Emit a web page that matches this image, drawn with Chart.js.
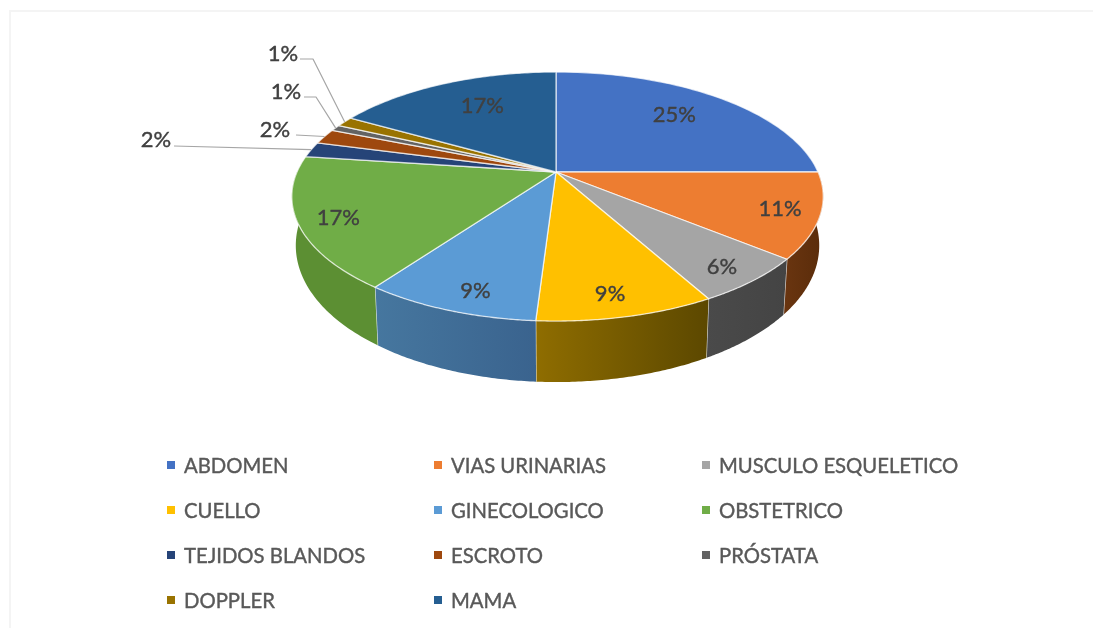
<!DOCTYPE html>
<html lang="es">
<head>
<meta charset="utf-8">
<title>Estudios por tipo</title>
<script src="https://cdn.jsdelivr.net/npm/chart.js@4/dist/chart.umd.min.js"></script>
<style>
  html, body { margin:0; padding:0; background:#fff; overflow:hidden; }
  #wrap { position:relative; width:1093px; height:628px; font-family:Lato, sans-serif; }
  #frame { position:absolute; left:9px; top:10px; width:1084px; height:640px; border:2px solid #f4f4f4; border-right:0; box-sizing:border-box; }
  canvas { position:absolute; left:0; top:0; }
  .item { position:absolute; font-size:20.3px; line-height:24px; color:#595959; white-space:nowrap; -webkit-text-stroke:.4px #595959; }
  .item i { position:absolute; left:-17px; top:8px; width:8px; height:8px; }
</style>
</head>
<body>
<div id="wrap">
  <div id="frame"></div>
  <canvas id="pie" width="1093" height="628"></canvas>
</div>
<script>
const categories = ['ABDOMEN','VIAS URINARIAS','MUSCULO ESQUELETICO','CUELLO','GINECOLOGICO','OBSTETRICO','TEJIDOS BLANDOS','ESCROTO','PRÓSTATA','DOPPLER','MAMA'];
const values = [25, 11, 6, 9, 9, 17.1, 2, 2, 0.8, 1.3, 16.8];
const colors = ['#4472C4','#ED7D31','#A5A5A5','#FFC000','#5B9BD5','#70AD47','#264478','#9E480E','#636363','#997300','#255E91'];
// pared lateral: color izquierda / derecha de cada rebanada
const wallLeft = ['#2f4f88','#6a3510','#4a4a4a','#8f6d00','#46779f','#5c8f33','#1b305a','#6f320a','#464646','#6b5100','#1a426a'];
const wallRight = ['#2f4f88','#5a2c0a','#444444','#5c4800','#3a638e','#5c8f33','#1b305a','#6f320a','#464646','#6b5100','#1a426a'];

/* ------- Perspectiva del disco ------- */
const CX = 556, CY = 172, RX_R = 262, RX_L = 259, RY = 119.7, TILT = 0.197;

function topPoint(a, r = 1) {
  const x = r * Math.cos(a), y = r * Math.sin(a), w = 1 - TILT * y;
  return [CX + (x > 0 ? RX_R : RX_L) * x / w, CY + RY * y / w];
}
function bottomPoint(a) {
  const y = Math.sin(a), p = topPoint(a);
  return [CX + (p[0] - CX) * 0.985, p[1] + 46 + 15 * y];
}

/* ------- Etiquetas ------- */
// fuera del disco: índice de la rebanada, posición del texto y codo de la guía
const outerLabels = [
  {i:6, x:156, y:140, ex:174, ey:146, sx:174, sy:146},
  {i:7, x:275, y:130, ex:296, ey:135, sx:296, sy:135},
  {i:8, x:286, y:92, ex:316, ey:97, sx:304, sy:97},
  {i:9, x:283, y:54, ex:313, ey:59, sx:300, sy:59}
];
// ajuste fino de los porcentajes interiores (px)
const labelNudge = [[-3,-2],[2,0],[3,5],[-4,3],[8,5],[-1,3],[0,0],[0,0],[0,0],[0,0],[10,0]];

const pie3d = {
  id: 'pie3d',
  beforeDatasetsDraw(chart) {
    const ctx = chart.ctx;
    const arcs = chart.getDatasetMeta(0).data;

    // paredes: solo la parte frontal (seno positivo)
    ctx.save();
    ctx.lineJoin = 'round';
    arcs.forEach((arc, i) => {
      const from = Math.max(arc.startAngle, 0), to = Math.min(arc.endAngle, Math.PI);
      if (to <= from) return;
      const top = [], bot = [];
      for (let k = 0; k <= 60; k++) {
        const a = from + (to - from) * k / 60;
        top.push(topPoint(a));
        bot.push(bottomPoint(a));
      }
      const xs = top.concat(bot).map(p => p[0]);
      const grad = ctx.createLinearGradient(Math.min(...xs), 0, Math.max(...xs), 0);
      grad.addColorStop(0, wallLeft[i]);
      grad.addColorStop(1, wallRight[i]);
      ctx.beginPath();
      top.forEach((p, k) => k ? ctx.lineTo(p[0], p[1]) : ctx.moveTo(p[0], p[1]));
      bot.reverse().forEach(p => ctx.lineTo(p[0], p[1]));
      ctx.closePath();
      ctx.fillStyle = grad;
      ctx.fill();
      // separadores verticales
      ctx.strokeStyle = 'rgba(255,255,255,.75)';
      ctx.lineWidth = 1.2;
      ctx.beginPath();
      if (to < Math.PI) {
        ctx.moveTo(...topPoint(to));
        ctx.lineTo(...bottomPoint(to));
      }
      ctx.stroke();
    });

    // cara superior
    arcs.forEach((arc, i) => {
      ctx.beginPath();
      ctx.moveTo(CX, CY);
      for (let k = 0; k <= 80; k++) {
        ctx.lineTo(...topPoint(arc.startAngle + (arc.endAngle - arc.startAngle) * k / 80));
      }
      ctx.closePath();
      ctx.fillStyle = colors[i];
      ctx.fill();
      ctx.strokeStyle = 'rgba(255,255,255,.7)';
      ctx.lineWidth = 1.3;
      ctx.stroke();
    });

    // porcentajes
    const total = values.reduce((s, v) => s + v, 0);
    ctx.font = '22px Lato, sans-serif';
    ctx.textAlign = 'center';
    ctx.textBaseline = 'middle';
    ctx.fillStyle = '#404040';
    ctx.strokeStyle = '#404040';
    ctx.lineWidth = 0.4;
    arcs.forEach((arc, i) => {
      const outer = outerLabels.find(o => o.i === i);
      const text = Math.round(values[i] / total * 100) + '%';
      if (outer) {
        ctx.fillText(text, outer.x, outer.y);
        ctx.strokeText(text, outer.x, outer.y);
        return;
      }
      const mid = (arc.startAngle + arc.endAngle) / 2;
      const p = topPoint(mid, Math.sin(mid) > 0 ? 0.85 : 0.72);
      const lx = p[0] + labelNudge[i][0], ly = p[1] + labelNudge[i][1];
      ctx.fillText(text, lx, ly);
      ctx.strokeText(text, lx, ly);
    });

    // guías
    ctx.strokeStyle = '#a6a6a6';
    ctx.lineWidth = 1.2;
    outerLabels.forEach(o => {
      const arc = arcs[o.i];
      const end = topPoint((arc.startAngle + arc.endAngle) / 2);
      ctx.beginPath();
      ctx.moveTo(o.sx, o.sy);
      ctx.lineTo(o.ex, o.ey);
      ctx.lineTo(end[0], end[1]);
      ctx.stroke();
    });
    ctx.restore();
    return false; // la dona plana no se dibuja
  }
};

/* ------- Leyenda ------- */
const legendCols = [184, 451, 719];
const legendRows = [453, 498, 543, 588];
function renderLegend() {
  const wrap = document.getElementById('wrap');
  categories.forEach((name, i) => {
    const el = document.createElement('div');
    el.className = 'item';
    el.style.left = legendCols[i % 3] + 'px';
    el.style.top = legendRows[Math.floor(i / 3)] + 'px';
    el.innerHTML = `<i style="background:${colors[i]}"></i>${name}`;
    wrap.appendChild(el);
  });
}

new Chart(document.getElementById('pie'), {
  type: 'pie',
  data: { labels: categories, datasets: [{ data: values, backgroundColor: colors }] },
  options: {
    responsive: false,
    animation: false,
    plugins: { legend: { display:false }, tooltip: { enabled:false } }
  },
  plugins: [pie3d]
});
renderLegend();
</script>
</body>
</html>
